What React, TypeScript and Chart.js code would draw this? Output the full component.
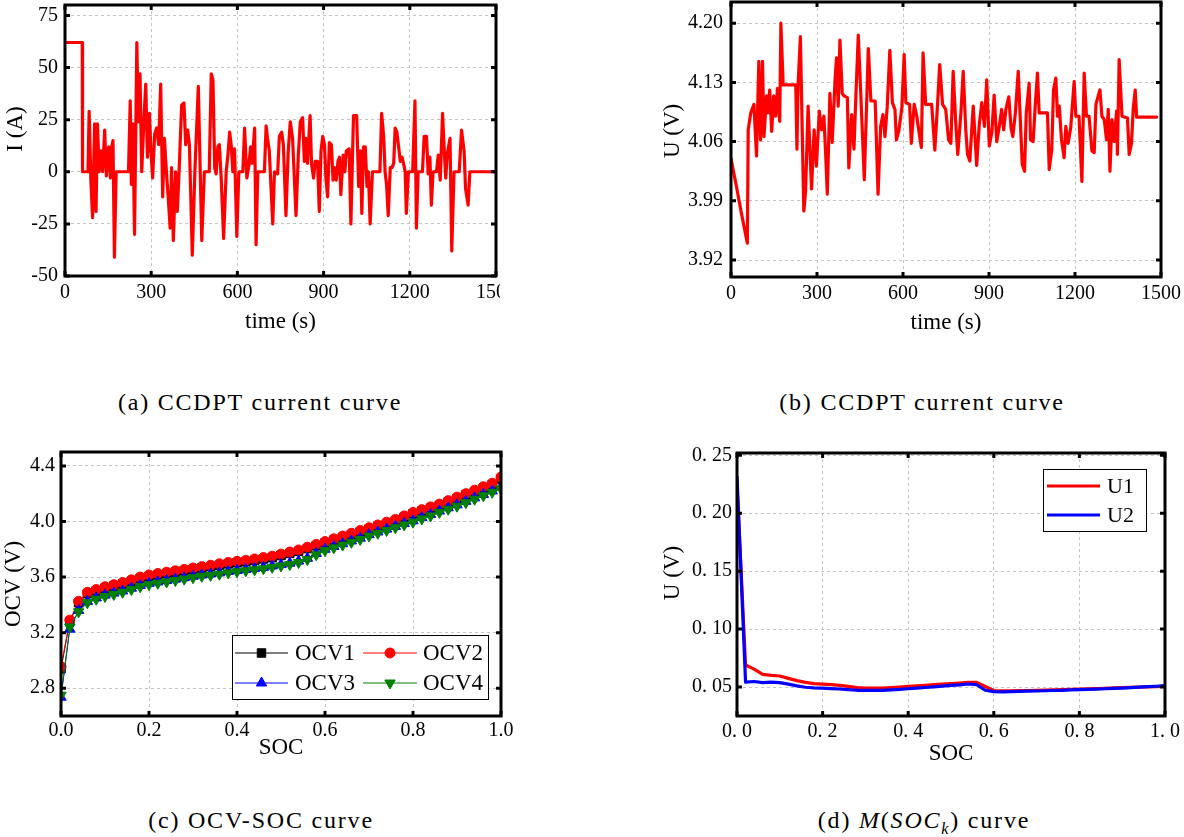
import React, { useEffect, useRef } from 'react';
import { Chart, registerables } from 'chart.js';

Chart.register(...registerables);

const SERIF = '"Liberation Serif", "Times New Roman", Times, serif';

/* ---------- (a) CCDPT current ---------- */
const timeA = [0, 60, 61, 80, 84, 90, 96, 103, 108, 113,
  119, 125, 131, 138, 144, 152, 158, 163, 167, 172,
  178, 221, 227, 231, 236, 242, 250, 255, 261, 267,
  275, 281, 287, 294, 299, 305, 312, 319, 326, 333,
  340, 346, 353, 360, 366, 371, 377, 385, 391, 397,
  406, 414, 420, 427, 433, 443, 452, 464, 476, 485,
  502, 509, 515, 521, 526, 532, 537, 544, 552, 561,
  567, 573, 579, 584, 590, 598, 605, 619, 625, 633,
  640, 646, 651, 660, 665, 671, 694, 700, 705, 711,
  723, 729, 740, 746, 754, 760, 769, 777, 784, 792,
  804, 812, 819, 827, 833, 838, 844, 853, 858, 865,
  871, 879, 885, 891, 897, 903, 908, 914, 920, 927,
  933, 938, 944, 950, 955, 960, 968, 974, 979, 989,
  995, 1004, 1015, 1022, 1028, 1033, 1039, 1045, 1051, 1056,
  1062, 1070, 1096, 1102, 1109, 1114, 1119, 1125, 1132, 1138,
  1144, 1149, 1155, 1161, 1167, 1173, 1178, 1184, 1188, 1195,
  1210, 1218, 1223, 1229, 1244, 1250, 1258, 1264, 1270, 1275,
  1281, 1293, 1299, 1306, 1314, 1320, 1325, 1331, 1340, 1346,
  1354, 1372, 1380, 1389, 1394, 1403, 1409, 1500];
const currentA = [62, 62, 0, 0, 29, -4, -22, 23, -19, 23,
  0, 10, 0, 20, -2, 12, -3, 12, 15, -41,
  0, 0, 34, -6, 23, -30, 62, 24, 47, 0,
  26, 42, 7, 28, 10, -3, 18, 21, 13, 42,
  -12, 16, 0, -14, -27, 2, -33, 0, -19, 0,
  32, 33, 13, 20, 13, -40, 0, 41, -33, 0,
  0, 47, 44, 2, -1, 12, 13, -4, -32, 0,
  8, 19, 12, 0, 11, -31, 0, 0, 21, -3,
  3, 12, 4, 21, -35, 0, 0, 22, 16, 10,
  -25, 0, -1, 17, 19, 13, -21, 10, 24, 16,
  -21, 8, 24, 26, 5, 16, 4, 27, 4, -3,
  5, 5, -19, 10, 17, 13, -3, -12, 14, 13,
  -4, 2, -4, 5, 7, -11, 8, 0, 10, 11,
  -25, 27, 27, -7, 10, -20, 12, 12, -7, 0,
  -25, 0, 0, 28, 17, 0, -6, -21, 2, 2,
  4, 21, 19, 12, 5, 7, 4, 0, -20, 0,
  0, 34, -27, 0, 0, 17, 17, -1, 7, -16,
  0, 0, 8, -4, 28, 10, -3, 9, 16, -38,
  0, 0, 20, 10, -8, -16, 0, 0];
const xTicksA = [0, 300, 600, 900, 1200, 1500];
const xLabelsA = ['0', '300', '600', '900', '1200', '1500'];
const yTicksA = [-50, -25, 0, 25, 50, 75];
const yLabelsA = ['-50', '-25', '0', '25', '50', '75'];

/* ---------- (b) CCDPT voltage ---------- */
const timeB = [0, 9, 19, 36, 57, 60, 69, 80, 89, 97,
  103, 110, 115, 124, 129, 135, 142, 149, 156, 162,
  170, 174, 182, 226, 230, 234, 242, 254, 260, 269,
  281, 290, 298, 308, 316, 324, 330, 336, 345, 353,
  363, 368, 374, 380, 388, 394, 406, 411, 421, 429,
  436, 444, 453, 465, 479, 488, 503, 513, 522, 530,
  537, 545, 554, 563, 572, 577, 586, 596, 604, 610,
  623, 629, 639, 648, 656, 664, 670, 679, 700, 711,
  720, 728, 738, 749, 759, 767, 775, 784, 791, 802,
  810, 819, 825, 833, 845, 857, 866, 875, 884, 892,
  901, 910, 918, 927, 936, 944, 951, 959, 969, 977,
  983, 992, 1002, 1016, 1024, 1030, 1040, 1045, 1054, 1061,
  1069, 1075, 1104, 1110, 1119, 1125, 1133, 1139, 1145, 1153,
  1162, 1168, 1176, 1185, 1197, 1203, 1214, 1224, 1232, 1240,
  1249, 1259, 1267, 1273, 1281, 1287, 1294, 1302, 1310, 1316,
  1322, 1329, 1337, 1345, 1348, 1354, 1364, 1383, 1389, 1397,
  1403, 1410, 1415, 1485];
const voltageB = [4.040, 4.024, 4.007, 3.976, 3.940, 4.074, 4.094, 4.104, 4.043, 4.155,
  4.062, 4.155, 4.066, 4.114, 4.094, 4.121, 4.072, 4.114, 4.090, 4.123,
  4.084, 4.200, 4.127, 4.127, 4.051, 4.127, 4.184, 3.978, 4.000, 4.102,
  4.004, 4.074, 4.031, 4.096, 4.074, 4.090, 4.047, 3.998, 4.117, 4.059,
  4.133, 4.159, 4.102, 4.180, 4.117, 4.114, 4.112, 4.029, 4.092, 4.051,
  4.117, 4.186, 4.114, 4.015, 4.170, 4.108, 4.108, 3.998, 4.078, 4.092,
  4.066, 4.101, 4.168, 4.106, 4.098, 4.062, 4.074, 4.100, 4.163, 4.106,
  4.104, 4.058, 4.104, 4.090, 4.071, 4.053, 4.165, 4.104, 4.104, 4.050,
  4.101, 4.151, 4.104, 4.098, 4.062, 4.058, 4.143, 4.082, 4.045, 4.094,
  4.143, 4.074, 4.045, 4.037, 4.102, 4.032, 4.080, 4.106, 4.078, 4.133,
  4.055, 4.071, 4.115, 4.060, 4.078, 4.098, 4.074, 4.098, 4.113, 4.076,
  4.066, 4.094, 4.143, 4.033, 4.025, 4.094, 4.129, 4.062, 4.060, 4.101,
  4.141, 4.094, 4.094, 4.027, 4.051, 4.121, 4.135, 4.090, 4.102, 4.062,
  4.041, 4.078, 4.058, 4.076, 4.131, 4.090, 4.090, 4.013, 4.141, 4.090,
  4.090, 4.049, 4.047, 4.104, 4.114, 4.121, 4.090, 4.086, 4.062, 4.098,
  4.025, 4.086, 4.060, 4.096, 4.045, 4.157, 4.090, 4.088, 4.045, 4.058,
  4.098, 4.121, 4.089, 4.089];
const xTicksB = [0, 300, 600, 900, 1200, 1500];
const xLabelsB = ['0', '300', '600', '900', '1200', '1500'];
const yTicksB = [3.92, 3.99, 4.06, 4.13, 4.2];
const yLabelsB = ['3.92', '3.99', '4.06', '4.13', '4.20'];

/* ---------- (c) OCV-SOC ---------- */
const socC = [0, 0.02, 0.04, 0.06, 0.08, 0.1, 0.12, 0.14, 0.16, 0.18,
  0.2, 0.22, 0.24, 0.26, 0.28, 0.3, 0.32, 0.34, 0.36, 0.38,
  0.4, 0.42, 0.44, 0.46, 0.48, 0.5, 0.52, 0.54, 0.56, 0.58,
  0.6, 0.62, 0.64, 0.66, 0.68, 0.7, 0.72, 0.74, 0.76, 0.78,
  0.8, 0.82, 0.84, 0.86, 0.88, 0.9, 0.92, 0.94, 0.96, 0.98, 1.0];
const ocv1 = [2.94, 3.28, 3.415, 3.48, 3.5, 3.52, 3.535, 3.55, 3.57, 3.59,
  3.605, 3.615, 3.625, 3.635, 3.645, 3.655, 3.665, 3.675, 3.685, 3.695,
  3.703, 3.71, 3.72, 3.73, 3.74, 3.755, 3.77, 3.785, 3.805, 3.825,
  3.845, 3.865, 3.885, 3.905, 3.925, 3.945, 3.965, 3.985, 4.005, 4.03,
  4.055, 4.075, 4.095, 4.115, 4.14, 4.165, 4.19, 4.215, 4.24, 4.265, 4.305];
const ocv2 = [2.955, 3.29, 3.425, 3.49, 3.51, 3.53, 3.545, 3.56, 3.58, 3.6,
  3.615, 3.625, 3.635, 3.645, 3.655, 3.665, 3.675, 3.685, 3.695, 3.705,
  3.713, 3.72, 3.73, 3.74, 3.75, 3.765, 3.78, 3.795, 3.815, 3.835,
  3.855, 3.875, 3.895, 3.915, 3.935, 3.955, 3.975, 3.995, 4.015, 4.04,
  4.065, 4.085, 4.105, 4.125, 4.15, 4.175, 4.2, 4.225, 4.25, 4.275, 4.32];
const ocv3 = [2.735, 3.225, 3.36, 3.425, 3.45, 3.47, 3.485, 3.5, 3.52, 3.54,
  3.555, 3.565, 3.575, 3.585, 3.595, 3.605, 3.615, 3.622, 3.63, 3.64,
  3.648, 3.655, 3.662, 3.67, 3.68, 3.69, 3.7, 3.715, 3.735, 3.77,
  3.8, 3.82, 3.84, 3.86, 3.88, 3.905, 3.925, 3.945, 3.965, 3.985,
  4.005, 4.028, 4.05, 4.075, 4.098, 4.12, 4.145, 4.17, 4.195, 4.22, 4.25];
const ocv4 = [2.75, 3.24, 3.35, 3.415, 3.44, 3.46, 3.475, 3.49, 3.51, 3.53,
  3.545, 3.555, 3.565, 3.575, 3.585, 3.595, 3.605, 3.612, 3.62, 3.63,
  3.638, 3.645, 3.652, 3.66, 3.67, 3.68, 3.69, 3.705, 3.725, 3.76,
  3.79, 3.81, 3.83, 3.85, 3.87, 3.895, 3.915, 3.935, 3.955, 3.975,
  3.995, 4.018, 4.04, 4.065, 4.088, 4.11, 4.135, 4.16, 4.185, 4.21, 4.235];
const xTicksC = [0, 0.2, 0.4, 0.6, 0.8, 1.0];
const xLabelsC = ['0.0', '0.2', '0.4', '0.6', '0.8', '1.0'];
const yTicksC = [2.8, 3.2, 3.6, 4.0, 4.4];
const yLabelsC = ['2.8', '3.2', '3.6', '4.0', '4.4'];

/* ---------- (d) M(SOC_k) ---------- */
const socD = [0, 0.02, 0.04, 0.06, 0.08, 0.1, 0.12, 0.14, 0.16, 0.18,
  0.2, 0.22, 0.24, 0.26, 0.28, 0.3, 0.32, 0.34, 0.36, 0.38,
  0.4, 0.42, 0.44, 0.46, 0.48, 0.5, 0.52, 0.54, 0.56, 0.58,
  0.6, 0.62, 0.64, 0.66, 0.68, 0.7, 0.72, 0.74, 0.76, 0.78,
  0.8, 0.82, 0.84, 0.86, 0.88, 0.9, 0.92, 0.94, 0.96, 0.98, 1.0];
const u1 = [0.225, 0.069, 0.0655, 0.061, 0.06, 0.0595, 0.0575, 0.0555, 0.054, 0.053,
  0.0525, 0.052, 0.0515, 0.0505, 0.0495, 0.049, 0.049, 0.049, 0.0495, 0.05,
  0.0505, 0.051, 0.0515, 0.052, 0.0525, 0.053, 0.0535, 0.054, 0.054, 0.0505,
  0.047, 0.0468, 0.0468, 0.0469, 0.047, 0.0471, 0.0473, 0.0475, 0.0477, 0.048,
  0.0483, 0.0485, 0.0487, 0.0489, 0.0492, 0.0495, 0.0497, 0.0499, 0.0501, 0.0503, 0.0506];
const u2 = [0.232, 0.0542, 0.0548, 0.0538, 0.0542, 0.0538, 0.0525, 0.051, 0.0498, 0.0492,
  0.049, 0.0487, 0.0483, 0.0478, 0.0472, 0.0471, 0.0471, 0.0472, 0.0475, 0.0479,
  0.0485, 0.049, 0.0496, 0.0502, 0.0508, 0.0514, 0.0519, 0.0526, 0.052, 0.0472,
  0.046, 0.0459, 0.046, 0.0462, 0.0464, 0.0466, 0.0468, 0.047, 0.0472, 0.0475,
  0.0478, 0.048, 0.0482, 0.0485, 0.0488, 0.0491, 0.0495, 0.0499, 0.0503, 0.0507, 0.0512];
const xTicksD = [0, 0.2, 0.4, 0.6, 0.8, 1.0];
const xLabelsD = ['0. 0', '0. 2', '0. 4', '0. 6', '0. 8', '1. 0'];
const yTicksD = [0.05, 0.1, 0.15, 0.2, 0.25];
const yLabelsD = ['0. 05', '0. 10', '0. 15', '0. 20', '0. 25'];

/* ---------- helpers ---------- */
const xy = (xs: number[], ys: number[]) => xs.map((x, i) => ({ x, y: ys[i] }));

type AxisCfg = {
  min: number; max: number; ticks: number[]; labels: string[];
  size: number; tickPad: number; tickSize: number; title: string; titlePad: number;
};
type LegendItem = { ds: number; x1: number; x2: number; y: number; tx: number };
type LegendCfg = { box: [number, number, number, number]; size: number; items: LegendItem[] };
type Panel = {
  id: string; left: number; top: number; width: number; height: number;
  pad: { top: number; right: number; bottom: number; left: number };
  x: AxisCfg; y: AxisCfg; datasets: any[]; legend?: LegendCfg;
};

function drawMarker(ctx: CanvasRenderingContext2D, style: string, rotation: number, r: number, x: number, y: number) {
  ctx.beginPath();
  if (style === 'circle') {
    ctx.arc(x, y, r, 0, Math.PI * 2);
  } else if (style === 'rect') {
    const s = r * Math.SQRT1_2;
    ctx.rect(x - s, y - s, 2 * s, 2 * s);
  } else if (style === 'triangle') {
    let rad = (rotation * Math.PI) / 180;
    const step = (2 * Math.PI) / 3;
    rad += step;
    ctx.moveTo(x + Math.sin(rad) * r, y - Math.cos(rad) * r);
    rad += step;
    ctx.lineTo(x + Math.sin(rad) * r, y - Math.cos(rad) * r);
    rad += step;
    ctx.lineTo(x + Math.sin(rad) * r, y - Math.cos(rad) * r);
  }
  ctx.closePath();
  ctx.fill();
  ctx.stroke();
}

const framePlugin = {
  id: 'matlabFrame',
  afterDatasetsDraw(chart: any) {
    const { ctx, chartArea: a } = chart;
    const xs = chart.scales.x;
    const ys = chart.scales.y;
    const L = 5;
    ctx.save();
    ctx.strokeStyle = '#000';
    ctx.lineWidth = 3;
    ctx.beginPath();
    xs.ticks.forEach((t: any) => {
      const px = xs.getPixelForValue(t.value);
      ctx.moveTo(px, a.bottom); ctx.lineTo(px, a.bottom - L);
      ctx.moveTo(px, a.top); ctx.lineTo(px, a.top + L);
    });
    ys.ticks.forEach((t: any) => {
      const py = ys.getPixelForValue(t.value);
      ctx.moveTo(a.left, py); ctx.lineTo(a.left + L, py);
      ctx.moveTo(a.right, py); ctx.lineTo(a.right - L, py);
    });
    ctx.stroke();
    ctx.lineWidth = 3;
    ctx.strokeRect(a.left, a.top, a.right - a.left, a.bottom - a.top);
    ctx.restore();
  },
};

function makeLegendPlugin(cfg: LegendCfg) {
  return {
    id: 'boxLegend',
    afterDraw(chart: any) {
      const ctx: CanvasRenderingContext2D = chart.ctx;
      const [bx, by, bw, bh] = cfg.box;
      ctx.save();
      ctx.fillStyle = '#fff';
      ctx.fillRect(bx, by, bw, bh);
      ctx.strokeStyle = '#000';
      ctx.lineWidth = 1;
      ctx.strokeRect(bx + 0.5, by + 0.5, bw, bh);
      cfg.items.forEach((it) => {
        const ds = chart.data.datasets[it.ds];
        ctx.strokeStyle = ds.borderColor;
        ctx.lineWidth = ds.borderWidth;
        ctx.beginPath();
        ctx.moveTo(it.x1, it.y);
        ctx.lineTo(it.x2, it.y);
        ctx.stroke();
        if (ds.pointRadius > 0) {
          ctx.fillStyle = ds.backgroundColor;
          ctx.strokeStyle = ds.borderColor;
          ctx.lineWidth = 1;
          drawMarker(ctx, ds.pointStyle, ds.rotation || 0, ds.pointRadius, (it.x1 + it.x2) / 2, it.y);
        }
        ctx.fillStyle = '#000';
        ctx.font = `${cfg.size}px ${SERIF}`;
        ctx.textBaseline = 'middle';
        ctx.textAlign = 'left';
        ctx.fillText(ds.label, it.tx, it.y + 1);
      });
      ctx.restore();
    },
  };
}

function axisOptions(isX: boolean, a: AxisCfg) {
  return {
    type: 'linear',
    position: isX ? 'bottom' : 'left',
    min: a.min,
    max: a.max,
    afterBuildTicks: (s: any) => { s.ticks = a.ticks.map((v) => ({ value: v })); },
    afterFit: (s: any) => {
      if (isX) { s.height = a.size; s.paddingLeft = 0; s.paddingRight = 0; }
      else { s.width = a.size; s.paddingTop = 0; s.paddingBottom = 0; }
    },
    grid: { color: '#c4c4c4', lineWidth: 1, drawTicks: false },
    border: { display: false, dash: [3, 3] },
    ticks: {
      autoSkip: false, maxRotation: 0, minRotation: 0, padding: a.tickPad, color: '#000',
      font: { family: SERIF, size: a.tickSize },
      callback: (_v: any, i: number) => a.labels[i],
    },
    title: {
      display: true, text: a.title, color: '#000',
      font: { family: SERIF, size: 23 },
      padding: isX ? { top: 0, bottom: a.titlePad } : { top: a.titlePad, bottom: 0 },
    },
  };
}

function buildConfig(p: Panel): any {
  const plugins: any[] = [framePlugin];
  if (p.legend) plugins.push(makeLegendPlugin(p.legend));
  return {
    type: 'line',
    data: { datasets: p.datasets },
    options: {
      responsive: false,
      maintainAspectRatio: false,
      animation: false,
      devicePixelRatio: 1,
      events: [],
      layout: { padding: p.pad },
      plugins: { legend: { display: false }, tooltip: { enabled: false }, title: { display: false } },
      scales: { x: axisOptions(true, p.x), y: axisOptions(false, p.y) },
    },
    plugins,
  };
}

const redLine = (label: string, data: any[]) => ({
  label, data, borderColor: '#ff0000', backgroundColor: '#ff0000', borderWidth: 3.2,
  pointRadius: 0, tension: 0, borderJoinStyle: 'round', borderCapStyle: 'round',
});

const PANELS: Panel[] = [
  {
    id: 'a', left: 0, top: 0, width: 500, height: 340,
    pad: { top: 5, right: 4, bottom: 0, left: 0 },
    x: { min: 0, max: 1500, ticks: xTicksA, labels: xLabelsA, size: 64, tickPad: 5, tickSize: 20, title: 'time (s)', titlePad: 4 },
    y: { min: -50, max: 80, ticks: yTicksA, labels: yLabelsA, size: 65, tickPad: 7, tickSize: 20, title: '    I (A)', titlePad: 2 },
    datasets: [redLine('I', xy(timeA, currentA))],
  },
  {
    id: 'b', left: 650, top: 0, width: 534, height: 340,
    pad: { top: 2, right: 23, bottom: 0, left: 0 },
    x: { min: 0, max: 1500, ticks: xTicksB, labels: xLabelsB, size: 63, tickPad: 5, tickSize: 20, title: 'time (s)', titlePad: 3 },
    y: { min: 3.9, max: 4.225, ticks: yTicksB, labels: yLabelsB, size: 81, tickPad: 8, tickSize: 20, title: '   U (V)', titlePad: 9 },
    datasets: [redLine('U', xy(timeB, voltageB))],
  },
  {
    id: 'c', left: 0, top: 440, width: 520, height: 345,
    pad: { top: 12, right: 19, bottom: 0, left: 0 },
    x: { min: 0, max: 1, ticks: xTicksC, labels: xLabelsC, size: 69, tickPad: 3, tickSize: 20, title: 'SOC', titlePad: 23 },
    y: { min: 2.6, max: 4.5, ticks: yTicksC, labels: yLabelsC, size: 61, tickPad: 6, tickSize: 20, title: 'OCV (V)', titlePad: 0 },
    datasets: [
      { label: 'OCV1', data: xy(socC, ocv1), borderColor: '#000000', backgroundColor: '#000000', borderWidth: 1, pointStyle: 'rect', pointRadius: 6, pointBorderWidth: 1, order: 4 },
      { label: 'OCV2', data: xy(socC, ocv2), borderColor: '#ff0000', backgroundColor: '#ff0000', borderWidth: 1, pointStyle: 'circle', pointRadius: 5, pointBorderWidth: 1, order: 3 },
      { label: 'OCV3', data: xy(socC, ocv3), borderColor: '#0000ff', backgroundColor: '#0000ff', borderWidth: 1, pointStyle: 'triangle', pointRadius: 6, pointBorderWidth: 1, order: 2 },
      { label: 'OCV4', data: xy(socC, ocv4), borderColor: '#008000', backgroundColor: '#008000', borderWidth: 1, pointStyle: 'triangle', rotation: 180, pointRotation: 180, pointRadius: 6, pointBorderWidth: 1, order: 1 },
    ],
    legend: {
      box: [232, 195, 256, 64], size: 23,
      items: [
        { ds: 0, x1: 235, x2: 288, y: 213, tx: 295 },
        { ds: 1, x1: 363, x2: 417, y: 213, tx: 423 },
        { ds: 2, x1: 235, x2: 288, y: 243, tx: 295 },
        { ds: 3, x1: 363, x2: 417, y: 243, tx: 423 },
      ],
    },
  },
  {
    id: 'd', left: 650, top: 440, width: 534, height: 345,
    pad: { top: 13, right: 19, bottom: 0, left: 0 },
    x: { min: 0, max: 1, ticks: xTicksD, labels: xLabelsD, size: 69, tickPad: 4, tickSize: 20, title: 'SOC', titlePad: 17 },
    y: { min: 0.025, max: 0.252, ticks: yTicksD, labels: yLabelsD, size: 87, tickPad: 5, tickSize: 20, title: '    U (V)', titlePad: 9 },
    datasets: [
      { label: 'U1', data: xy(socD, u1), borderColor: '#ff0000', backgroundColor: '#ff0000', borderWidth: 3.2, pointRadius: 0, order: 2, borderJoinStyle: 'round' },
      { label: 'U2', data: xy(socD, u2), borderColor: '#0000ff', backgroundColor: '#0000ff', borderWidth: 3.2, pointRadius: 0, order: 1, borderJoinStyle: 'round' },
    ],
    legend: {
      box: [393, 29, 103, 62], size: 22,
      items: [
        { ds: 0, x1: 397, x2: 450, y: 46, tx: 457 },
        { ds: 1, x1: 397, x2: 450, y: 75, tx: 457 },
      ],
    },
  },
];

function ChartPanel({ panel }: { panel: Panel }) {
  const ref = useRef<HTMLCanvasElement>(null);
  useEffect(() => {
    if (!ref.current) return;
    const chart = new Chart(ref.current, buildConfig(panel));
    return () => chart.destroy();
  }, [panel]);
  return (
    <canvas
      ref={ref}
      width={panel.width}
      height={panel.height}
      style={{ position: 'absolute', left: panel.left, top: panel.top, width: panel.width, height: panel.height }}
    />
  );
}

const capStyle = (left: number, width: number, top: number): React.CSSProperties => ({
  position: 'absolute', left, width, top, textAlign: 'center',
  fontFamily: SERIF, fontSize: 24, letterSpacing: '1.8px', lineHeight: '28px', color: '#000', whiteSpace: 'nowrap',
});

export default function App() {
  return (
    <div style={{ position: 'absolute', left: 0, top: 0, width: 1184, height: 837, background: '#fff', overflow: 'hidden' }}>
      {PANELS.map((p) => <ChartPanel key={p.id} panel={p} />)}
      <div style={capStyle(0, 520, 388)}>(a) CCDPT current curve</div>
      <div style={capStyle(660, 524, 388)}>(b) CCDPT current curve</div>
      <div style={capStyle(0, 522, 806)}>(c) OCV-SOC curve</div>
      <div style={capStyle(660, 528, 806)}>
        (d) <i>M</i>(<i>SOC</i><sub style={{ fontSize: 16, fontStyle: 'italic' }}>k</sub>) curve
      </div>
    </div>
  );
}
